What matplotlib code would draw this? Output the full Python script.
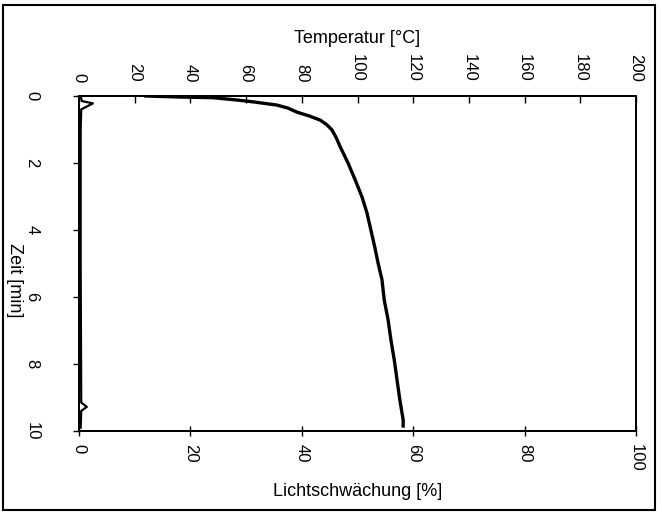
import matplotlib
matplotlib.use("Agg")
import matplotlib.pyplot as plt
from matplotlib.patches import Rectangle

plt.rcParams['font.family'] = ['Liberation Sans', 'DejaVu Sans']

# Main curve: light attenuation [%] vs time [min]
time_main = [0.00, 0.03, 0.05, 0.12, 0.18, 0.27, 0.36, 0.48, 0.60, 0.72, 0.86,
             1.01, 1.25, 1.52, 2.00, 2.51, 3.01, 3.49, 4.00, 4.51, 4.99,
             5.49, 6.09, 6.69, 7.28, 7.88, 8.48, 9.07, 9.67, 9.85]
atten_main = [12.0, 18.0, 24.0, 28.4, 31.5, 35.5, 37.5, 39.1, 41.4, 43.3, 44.5,
              45.4, 46.2, 46.9, 48.3, 49.6, 50.8, 51.7, 52.4, 53.1, 53.7,
              54.4, 54.8, 55.5, 56.0, 56.6, 57.1, 57.6, 58.2, 58.2]

# Second trace near zero (with small spikes)
time_low = [0.0, 0.15, 0.22, 0.28, 0.40, 1.0, 5.0, 9.15, 9.28, 9.40, 9.9]
atten_low = [0.3, 0.5, 2.5, 1.8, 0.4, 0.3, 0.3, 0.4, 1.4, 0.4, 0.3]

bottom_ticks = [0, 20, 40, 60, 80, 100]
top_ticks = [0, 20, 40, 60, 80, 100, 120, 140, 160, 180, 200]
left_ticks = [0, 2, 4, 6, 8, 10]

W, H = 662, 514
fig = plt.figure(figsize=(W / 100, H / 100), dpi=100)
ax = fig.add_axes([79 / W, 1 - 431 / H, (636 - 79) / W, (431 - 96) / H])

ax.plot(atten_main, time_main, color='black', lw=2.4, solid_joinstyle='round')
ax.plot(atten_low, time_low, color='black', lw=1.6)

ax.set_xlim(0, 100)
ax.set_ylim(10, 0)
ax.set_xticks(bottom_ticks)
ax.set_yticks(left_ticks)
ax.tick_params(axis='x', direction='inout', length=7, width=1, labelsize=12,
               labelrotation=-90, pad=6)
ax.tick_params(axis='y', direction='out', length=4, width=1, labelsize=12,
               labelrotation=-90, pad=30)
for lab in ax.get_yticklabels():
    lab.set_va('center')
    lab.set_ha('center')
ax.set_xlabel('Lichtschwächung [%]', fontsize=13, labelpad=8)
ax.set_ylabel('Zeit [min]', fontsize=13, rotation=-90, labelpad=4, va='center')
ax.yaxis.set_label_coords(-0.115, 0.45)

ax2 = ax.twiny()
ax2.set_xlim(0, 200)
ax2.set_xticks(top_ticks)
ax2.tick_params(axis='x', direction='in', length=5, width=1, labelsize=12,
                labelrotation=-90, pad=10)
ax2.set_xlabel('Temperatur [°C]', fontsize=13, labelpad=8)

for a in (ax, ax2):
    for s in a.spines.values():
        s.set_linewidth(1.3)

fig.patches.append(Rectangle((3 / W, 4 / H), (655 - 3) / W, (509 - 4) / H,
                             transform=fig.transFigure, fill=False,
                             edgecolor='black', lw=1.5))

fig.savefig('out.png', dpi=100)
